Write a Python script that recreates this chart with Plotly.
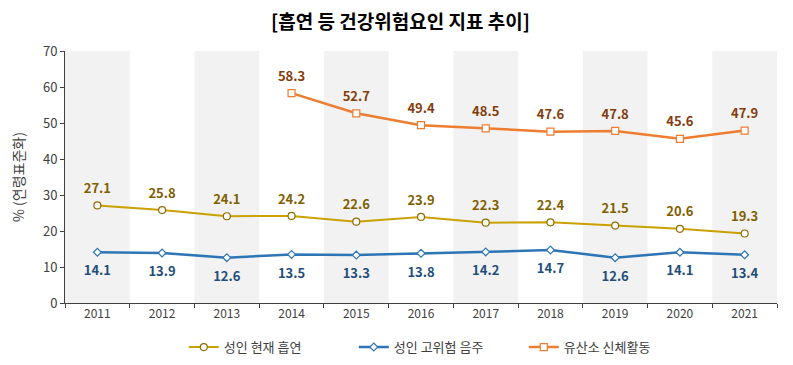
import plotly.graph_objects as go

years = ["2011", "2012", "2013", "2014", "2015", "2016", "2017", "2018", "2019", "2020", "2021"]
smoking = [27.1, 25.8, 24.1, 24.2, 22.6, 23.9, 22.3, 22.4, 21.5, 20.6, 19.3]
drinking = [14.1, 13.9, 12.6, 13.5, 13.3, 13.8, 14.2, 14.7, 12.6, 14.1, 13.4]
activity = [None, None, None, 58.3, 52.7, 49.4, 48.5, 47.6, 47.8, 45.6, 47.9]

names = ["성인 현재 흡연", "성인 고위험 음주", "유산소 신체활동"]
title = "[흡연 등 건강위험요인 지표 추이]"
ytitle = "% (연령표준화)"

font = "Noto Sans CJK KR"

fig = go.Figure()

# alternating background bands
for i in range(0, len(years), 2):
    fig.add_shape(type="rect", xref="x", yref="y", x0=i - 0.5, x1=i + 0.5, y0=0, y1=70,
                  fillcolor="#F2F2F2", line_width=0, layer="below")

series = [
    (smoking, names[0], "#C9A100", 2, "circle", 7, "#8C6D00", "#7F6000", "top center", 13),
    (drinking, names[1], "#2E75B6", 2.5, "diamond", 6, "#2E75B6", "#1F4E79", "bottom center", 20),
    (activity, names[2], "#ED7D31", 2.5, "square", 7, "#ED7D31", "#843C0C", "top center", 13),
]

for vals, name, lc, lw, sym, ms, mlc, tc, tpos, tsize in series:
    fig.add_trace(go.Scatter(
        x=years, y=vals, name=name, mode="lines+markers",
        line=dict(color=lc, width=lw),
        marker=dict(symbol=sym, size=ms, color="white", line=dict(color=mlc, width=1.2)),
    ))

for vals, name, lc, lw, sym, ms, mlc, tc, tpos, tsize in series:
    fig.add_trace(go.Scatter(
        x=years, y=vals, name=name + " 값", mode="markers+text", showlegend=False,
        hoverinfo="skip", marker=dict(size=tsize, opacity=0),
        text=["" if v is None else f"{v:.1f}" for v in vals], textposition=tpos,
        textfont=dict(family=font, size=13, color=tc, weight="bold"),
    ))

fig.update_layout(
    width=785, height=357,
    margin=dict(l=57, r=16, t=43, b=62),
    paper_bgcolor="white", plot_bgcolor="white",
    font=dict(family=font, size=12, color="#404040"),
    title=dict(text="<b>" + title + "</b>", x=0.5, xanchor="center", y=0.96, yanchor="middle",
               font=dict(family=font, size=19, color="black")),
    showlegend=True,
    legend=dict(orientation="h", x=0.525, xanchor="center", yref="container", y=0.05,
                yanchor="middle",
                font=dict(family=font, size=13, color="#404040"), entrywidth=125,
                itemwidth=30),
    xaxis=dict(type="category", range=[-0.5, 10.5], showgrid=False, showline=True,
               linecolor="#404040", linewidth=1, ticks="outside", ticklen=4,
               tickcolor="#404040", tickson="boundaries", automargin=False,
               tickfont=dict(family=font, size=12, color="#404040")),
    yaxis=dict(range=[0, 70], dtick=10, showgrid=False, showline=True,
               linecolor="#404040", linewidth=1, ticks="outside", ticklen=4,
               tickcolor="#404040", zeroline=False, automargin=False,
               title=dict(text=ytitle, font=dict(family=font, size=14, color="#404040"), standoff=17),
               tickfont=dict(family=font, size=13, color="#404040")),
)

fig.write_html("out.html")
